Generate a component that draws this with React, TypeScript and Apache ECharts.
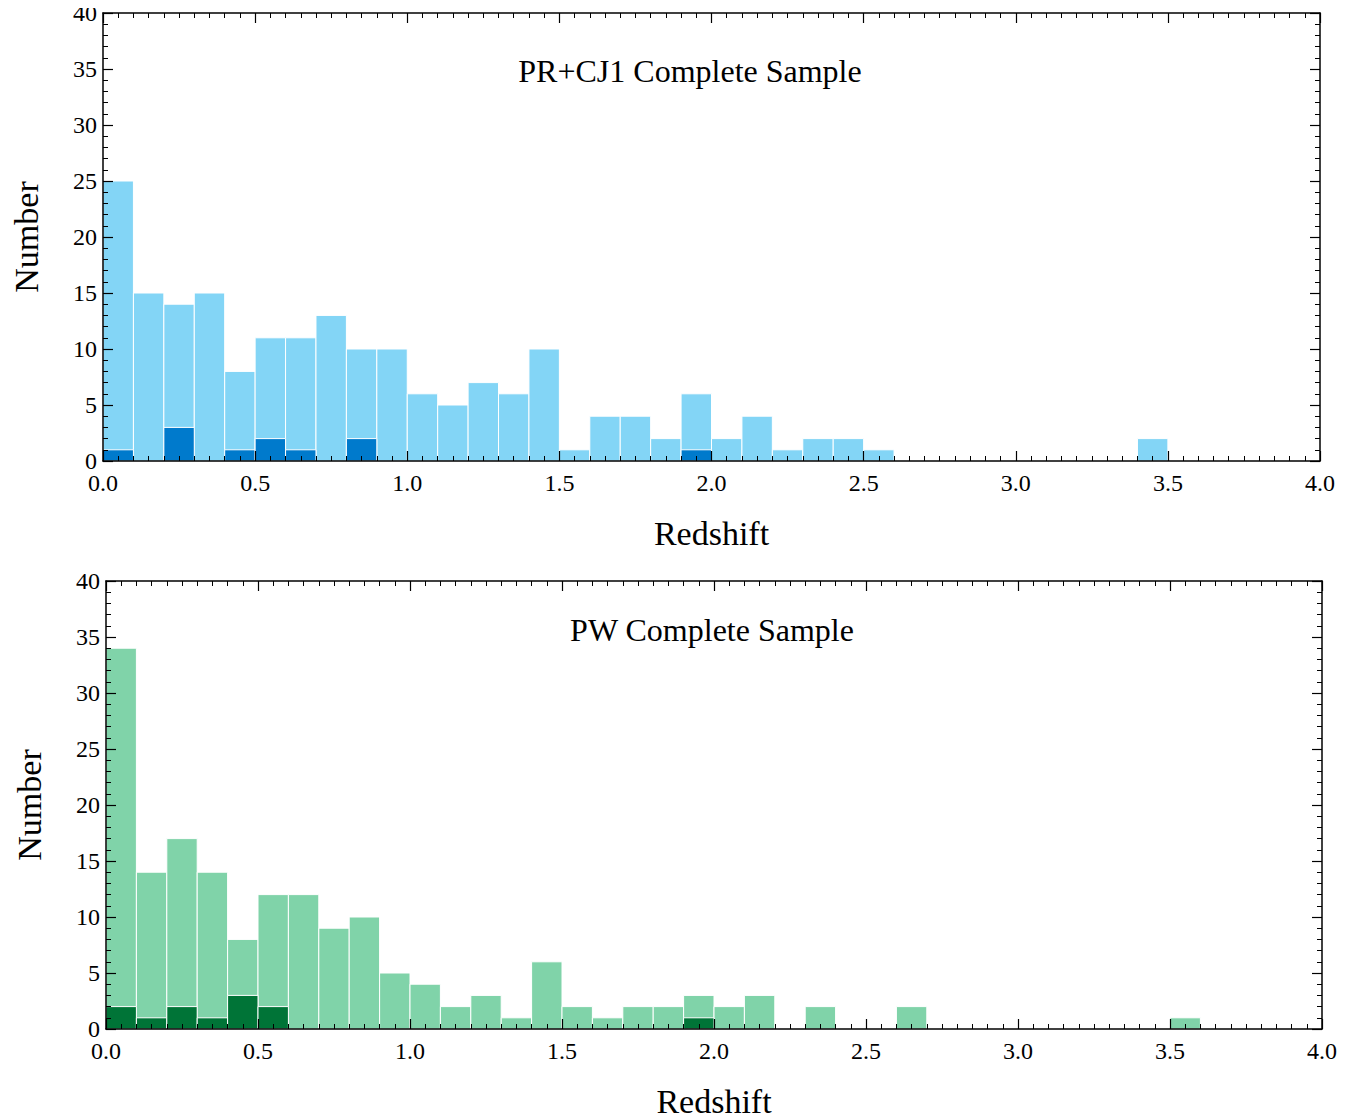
import React, { useEffect, useRef } from "react";
import * as echarts from "echarts";

// Bin lower edges (redshift), bin width 0.1
const binStarts = [0.0, 0.1, 0.2, 0.3, 0.4, 0.5, 0.6, 0.7, 0.8, 0.9, 1.0, 1.1, 1.2, 1.3, 1.4, 1.5, 1.6, 1.7, 1.8, 1.9, 2.0, 2.1, 2.2, 2.3, 2.4, 2.5, 2.6, 2.7, 2.8, 2.9, 3.0, 3.1, 3.2, 3.3, 3.4, 3.5];
const BIN_WIDTH = 0.1;

// PR+CJ1 complete sample
const prAll = [25, 15, 14, 15, 8, 11, 11, 13, 10, 10, 6, 5, 7, 6, 10, 1, 4, 4, 2, 6, 2, 4, 1, 2, 2, 1, 0, 0, 0, 0, 0, 0, 0, 0, 2, 0];
const prSub = [1, 0, 3, 0, 1, 2, 1, 0, 2, 0, 0, 0, 0, 0, 0, 0, 0, 0, 0, 1, 0, 0, 0, 0, 0, 0, 0, 0, 0, 0, 0, 0, 0, 0, 0, 0];

// PW complete sample
const pwAll = [34, 14, 17, 14, 8, 12, 12, 9, 10, 5, 4, 2, 3, 1, 6, 2, 1, 2, 2, 3, 2, 3, 0, 2, 0, 0, 2, 0, 0, 0, 0, 0, 0, 0, 0, 1];
const pwSub = [2, 1, 2, 1, 3, 2, 0, 0, 0, 0, 0, 0, 0, 0, 0, 0, 0, 0, 0, 1, 0, 0, 0, 0, 0, 0, 0, 0, 0, 0, 0, 0, 0, 0, 0, 0];

const xTickLabels = ["0.0", "0.5", "1.0", "1.5", "2.0", "2.5", "3.0", "3.5", "4.0"];

const FONT = "Liberation Serif";

function toData(counts: number[]) {
  const out: number[][] = [];
  counts.forEach((c, i) => {
    if (c > 0) out.push([binStarts[i], binStarts[i] + BIN_WIDTH, c]);
  });
  return out;
}

function histSeries(counts: number[], color: string, axisIndex: number, z: number) {
  return {
    type: "custom",
    xAxisIndex: axisIndex,
    yAxisIndex: axisIndex,
    z,
    encode: { x: [0, 1], y: 2 },
    data: toData(counts),
    renderItem: (params: any, api: any) => {
      const p0 = api.coord([api.value(0), 0]);
      const p1 = api.coord([api.value(1), api.value(2)]);
      return {
        type: "rect",
        shape: { x: p0[0], y: p1[1], width: p1[0] - p0[0], height: p0[1] - p1[1] },
        style: { fill: color, stroke: "#ffffff", lineWidth: 1 },
      };
    },
  };
}

const labelStyle = { fontFamily: FONT, fontSize: 24, color: "#000" };

function xAxes(gridIndex: number, nameGap: number) {
  const common = {
    type: "value",
    gridIndex,
    min: 0,
    max: 4,
    interval: 0.5,
    z: 10,
    splitLine: { show: false },
    axisLine: { show: true, onZero: false, lineStyle: { color: "#000", width: 1.5 } },
    axisTick: { show: true, inside: true, length: 10, lineStyle: { color: "#000", width: 1.2 } },
    minorTick: { show: true, splitNumber: 10, length: 5, lineStyle: { color: "#000", width: 1 } },
  };
  return [
    {
      ...common,
      position: "bottom",
      name: "Redshift",
      nameLocation: "middle",
      nameGap,
      nameTextStyle: { fontFamily: FONT, fontSize: 34, color: "#000" },
      axisLabel: {
        margin: 10,
        ...labelStyle,
        formatter: (v: number) => xTickLabels[Math.round(v / 0.5)] ?? "",
      },
    },
    { ...common, position: "top", axisLabel: { show: false } },
  ];
}

function yAxes(gridIndex: number, nameGap: number) {
  const common = {
    type: "value",
    gridIndex,
    min: 0,
    max: 40,
    interval: 5,
    z: 10,
    splitLine: { show: false },
    axisLine: { show: true, onZero: false, lineStyle: { color: "#000", width: 1.5 } },
    axisTick: { show: true, inside: true, length: 10, lineStyle: { color: "#000", width: 1.2 } },
    minorTick: { show: true, splitNumber: 5, length: 5, lineStyle: { color: "#000", width: 1 } },
  };
  return [
    {
      ...common,
      position: "left",
      name: "Number",
      nameLocation: "middle",
      nameGap,
      nameTextStyle: { fontFamily: FONT, fontSize: 34, color: "#000" },
      axisLabel: { margin: 6, ...labelStyle },
    },
    { ...common, position: "right", axisLabel: { show: false } },
  ];
}

export default function App() {
  const ref = useRef<HTMLDivElement>(null);
  useEffect(() => {
    if (!ref.current) return;
    const chart = echarts.init(ref.current, undefined, { renderer: "svg" });
    chart.setOption({
      animation: false,
      backgroundColor: "#ffffff",
      textStyle: { fontFamily: FONT },
      grid: [
        { left: 103, right: 43, top: 13, height: 448, outerBoundsMode: "none", containLabel: false },
        { left: 106, right: 41, top: 581, height: 448, outerBoundsMode: "none", containLabel: false },
      ],
      xAxis: [...xAxes(0, 55), ...xAxes(1, 55)],
      yAxis: [...yAxes(0, 60), ...yAxes(1, 60)],
      graphic: [
        {
          type: "text",
          x: 690,
          y: 71,
          style: { text: "PR+CJ1 Complete Sample", fontFamily: FONT, fontSize: 32, fill: "#000", textAlign: "center", textVerticalAlign: "middle" },
        },
        {
          type: "text",
          x: 712,
          y: 630,
          style: { text: "PW Complete Sample", fontFamily: FONT, fontSize: 32, fill: "#000", textAlign: "center", textVerticalAlign: "middle" },
        },
      ],
      series: [
        histSeries(prAll, "#83d5f6", 0, 2),
        histSeries(prSub, "#007acc", 0, 3),
        histSeries(pwAll, "#80d3a9", 2, 2),
        histSeries(pwSub, "#007437", 2, 3),
      ],
    });
    return () => chart.dispose();
  }, []);
  return <div ref={ref} style={{ width: 1363, height: 1118, margin: "-8px 0 0 -8px" }} />;
}
